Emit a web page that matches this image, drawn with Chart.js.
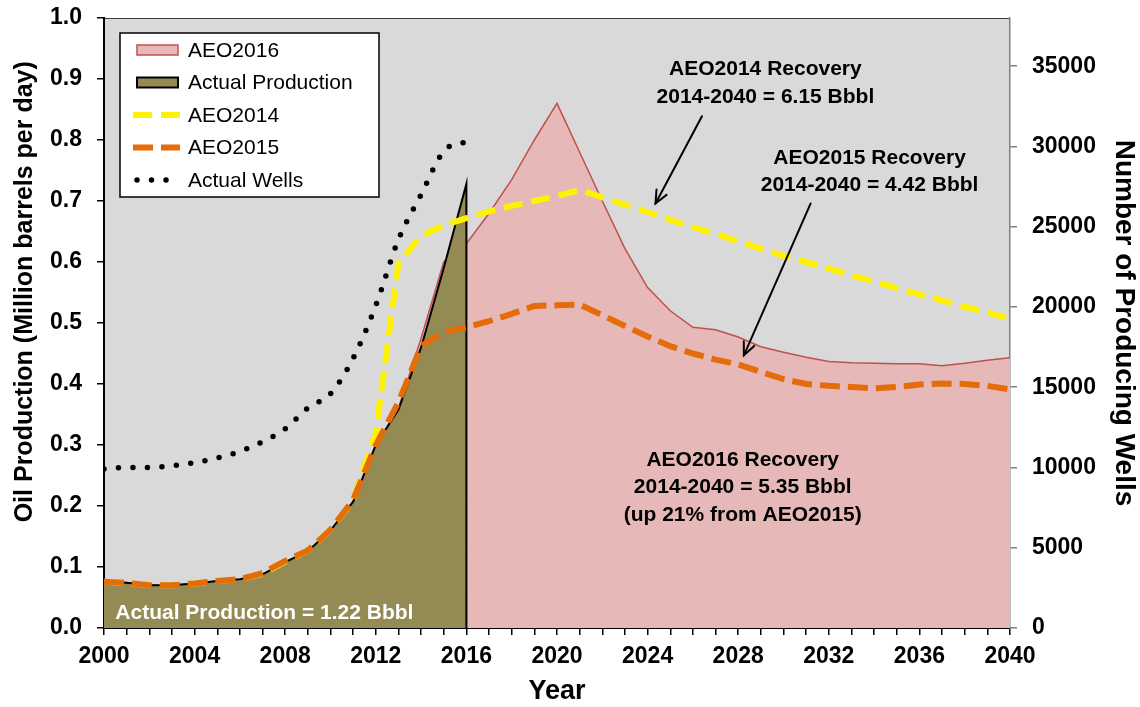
<!DOCTYPE html>
<html>
<head>
<meta charset="utf-8">
<title>Oil Production and Producing Wells</title>
<script src="https://cdn.jsdelivr.net/npm/chart.js@4.4.1/dist/chart.umd.min.js"></script>
<style>
body { margin: 0; background: #fff; }
#wrap { width: 1140px; height: 707px; }
</style>
</head>
<body>
<div id="wrap"><canvas id="oilChart" width="1140" height="707"></canvas></div>
<script>
// ===== DATA =====
const years = [2000, 2001, 2002, 2003, 2004, 2005, 2006, 2007, 2008, 2009,
  2010, 2011, 2012, 2013, 2014, 2015, 2016, 2017, 2018, 2019,
  2020, 2021, 2022, 2023, 2024, 2025, 2026, 2027, 2028, 2029,
  2030, 2031, 2032, 2033, 2034, 2035, 2036, 2037, 2038, 2039, 2040];

const actualYears = [2000, 2001, 2002, 2003, 2004, 2005, 2006, 2007, 2008,
  2009, 2010, 2011, 2012, 2013, 2014, 2015, 2016];

// million barrels per day
const actualProduction = [0.076, 0.074, 0.070, 0.070, 0.073, 0.077, 0.080, 0.088, 0.108,
  0.126, 0.160, 0.207, 0.300, 0.358, 0.460, 0.590, 0.728];

// number of producing wells
const actualWells = [9900, 10000, 10000, 10100, 10300, 10600, 11000, 11600, 12400,
  13700, 14600, 16800, 20100, 24200, 27000, 29700, 30300];

const aeo2016 = [0.076, 0.074, 0.070, 0.070, 0.073, 0.077, 0.080, 0.088, 0.108, 0.126,
  0.160, 0.207, 0.300, 0.360, 0.475, 0.600, 0.630, 0.680, 0.735, 0.800,
  0.860, 0.780, 0.700, 0.622, 0.558, 0.520, 0.493, 0.489, 0.477, 0.461,
  0.452, 0.444, 0.437, 0.435, 0.434, 0.433, 0.433, 0.430, 0.434, 0.439, 0.443];

const aeo2014 = [0.076, 0.074, 0.070, 0.070, 0.073, 0.077, 0.080, 0.089, 0.109, 0.127,
  0.161, 0.209, 0.320, 0.598, 0.643, 0.660, 0.672, 0.683, 0.692, 0.700,
  0.708, 0.718, 0.706, 0.694, 0.682, 0.669, 0.657, 0.646, 0.634, 0.622,
  0.610, 0.600, 0.589, 0.578, 0.568, 0.557, 0.547, 0.537, 0.527, 0.517, 0.507];

const aeo2015 = [0.076, 0.074, 0.070, 0.070, 0.073, 0.077, 0.080, 0.090, 0.110, 0.127,
  0.161, 0.210, 0.300, 0.370, 0.462, 0.485, 0.493, 0.503, 0.515, 0.528,
  0.529, 0.530, 0.513, 0.495, 0.478, 0.462, 0.450, 0.440, 0.432, 0.420,
  0.408, 0.400, 0.397, 0.395, 0.393, 0.395, 0.399, 0.401, 0.400, 0.397, 0.391];

const labelledYears = [2000, 2004, 2008, 2012, 2016, 2020, 2024, 2028, 2032, 2036, 2040];
const wellTicks = [0, 5000, 10000, 15000, 20000, 25000, 30000, 35000];

// notes: [year, value] anchors
const notes = [
  { at: [2029.2, 0.893], lines: ['AEO2014 Recovery', '2014-2040 = 6.15 Bbbl'], color: '#000', align: 'center' },
  { at: [2033.8, 0.748], lines: ['AEO2015 Recovery', '2014-2040 = 4.42 Bbbl'], color: '#000', align: 'center' },
  { at: [2028.2, 0.230], lines: ['AEO2016 Recovery', '2014-2040 = 5.35 Bbbl', '(up 21% from AEO2015)'], color: '#000', align: 'center' },
  { at: [2000.5, 0.025], lines: ['Actual Production = 1.22 Bbbl'], color: '#fff', align: 'left' }
];

const arrows = [
  { from: [2026.4, 0.839], to: [2024.35, 0.696] },
  { from: [2031.2, 0.696], to: [2028.25, 0.447] }
];

// ===== HELPERS =====
function toPoints(xs, ys){
  return xs.map((x, i) => ({ x: x, y: ys[i] }));
}

// actual production closes down to the axis at its last year
const actualPoints = toPoints(actualYears, actualProduction);
actualPoints.push({ x: actualYears[actualYears.length - 1], y: 0 });

// fixed side widths, no extra label overhang padding
function fixWidth(w){
  return (scale) => {
    scale.width = w;
    scale.paddingTop = 0;
    scale.paddingBottom = 0;
  };
}

const FONT = 'Liberation Sans, Arial, sans-serif';
Chart.defaults.font.family = FONT;
Chart.defaults.color = '#000';

// ===== PLUGINS =====
const plotBackground = {
  id: 'plotBackground',
  beforeDraw(chart){
    const { ctx, chartArea: a } = chart;
    ctx.save();
    ctx.fillStyle = '#d9d9d9';
    ctx.fillRect(a.left, a.top, a.right - a.left, a.bottom - a.top);
    ctx.strokeStyle = '#404040';
    ctx.lineWidth = 1;
    ctx.beginPath();
    ctx.moveTo(a.left, a.top + 0.5);
    ctx.lineTo(a.right, a.top + 0.5);
    ctx.stroke();
    ctx.restore();
  }
};

const notesPlugin = {
  id: 'notesPlugin',
  afterDatasetsDraw(chart){
    const { ctx, scales: { x, y } } = chart;
    ctx.save();

    // arrows
    ctx.strokeStyle = '#000';
    ctx.lineWidth = 2;
    ctx.lineCap = 'round';
    arrows.forEach(a => {
      const x1 = x.getPixelForValue(a.from[0]), y1 = y.getPixelForValue(a.from[1]);
      const x2 = x.getPixelForValue(a.to[0]), y2 = y.getPixelForValue(a.to[1]);
      const ang = Math.atan2(y2 - y1, x2 - x1);
      ctx.beginPath();
      ctx.moveTo(x1, y1);
      ctx.lineTo(x2, y2);
      ctx.stroke();
      ctx.beginPath();
      ctx.moveTo(x2 - 14 * Math.cos(ang - 0.42), y2 - 14 * Math.sin(ang - 0.42));
      ctx.lineTo(x2, y2);
      ctx.lineTo(x2 - 14 * Math.cos(ang + 0.42), y2 - 14 * Math.sin(ang + 0.42));
      ctx.stroke();
    });

    // text
    ctx.font = 'bold 21px ' + FONT;
    ctx.textBaseline = 'middle';
    notes.forEach(n => {
      const cx = x.getPixelForValue(n.at[0]);
      const cy = y.getPixelForValue(n.at[1]);
      ctx.fillStyle = n.color;
      ctx.textAlign = n.align;
      n.lines.forEach((line, i) => {
        ctx.fillText(line, cx, cy + (i - (n.lines.length - 1) / 2) * 27.5);
      });
    });
    ctx.restore();
  }
};

// legend box inside the plot, top-left
const boxLegend = {
  id: 'boxLegend',
  afterDraw(chart){
    const { ctx, chartArea: a } = chart;
    const left = a.left + 16, top = a.top + 15;
    const w = 259, h = 164;
    ctx.save();
    ctx.fillStyle = '#fff';
    ctx.fillRect(left, top, w, h);
    ctx.strokeStyle = '#000';
    ctx.lineWidth = 1.5;
    ctx.strokeRect(left, top, w, h);

    const order = [4, 3, 2, 1, 0]; // datasets are stored top-most first
    order.forEach((di, row) => {
      const ds = chart.data.datasets[di];
      const cy = top + 17 + row * 32.5;
      const sx = left + 17;
      ctx.save();
      if (ds.fill){
        ctx.fillStyle = ds.backgroundColor;
        ctx.fillRect(sx, cy - 5, 41, 10);
        ctx.strokeStyle = ds.borderColor;
        ctx.lineWidth = ds.borderWidth;
        ctx.strokeRect(sx, cy - 5, 41, 10);
      } else {
        ctx.strokeStyle = ds.borderColor;
        ctx.lineWidth = ds.borderWidth;
        ctx.lineCap = ds.borderCapStyle || 'butt';
        ctx.setLineDash(ds.borderDash || []);
        ctx.beginPath();
        if (ds.borderCapStyle === 'round'){
          ctx.moveTo(sx, cy);
          ctx.lineTo(sx + 32, cy);
        } else {
          ctx.moveTo(sx - 4, cy);
          ctx.lineTo(sx + 43, cy);
        }
        ctx.stroke();
      }
      ctx.restore();
      ctx.fillStyle = '#000';
      ctx.font = '21px ' + FONT;
      ctx.textAlign = 'left';
      ctx.textBaseline = 'middle';
      ctx.fillText(ds.label, left + 68, cy + 1);
    });
    ctx.restore();
  }
};

// ===== CHART =====
const ctx = document.getElementById('oilChart');

new Chart(ctx, {
  type: 'line',

  data: {
    datasets: [
      {
        label: 'Actual Wells',
        data: toPoints(actualYears, actualWells),
        yAxisID: 'y2',
        borderColor: '#000',
        borderWidth: 5.5,
        borderDash: [0, 14.5],
        borderCapStyle: 'round',
        cubicInterpolationMode: 'monotone',
        pointRadius: 0,
        fill: false
      },
      {
        label: 'AEO2015',
        data: toPoints(years, aeo2015),
        yAxisID: 'y',
        borderColor: '#e46c0a',
        borderWidth: 6,
        borderDash: [20, 8],
        pointRadius: 0,
        tension: 0,
        fill: false
      },
      {
        label: 'AEO2014',
        data: toPoints(years, aeo2014),
        yAxisID: 'y',
        borderColor: '#fff200',
        borderWidth: 6,
        borderDash: [19, 9],
        pointRadius: 0,
        tension: 0,
        fill: false
      },
      {
        label: 'Actual Production',
        data: actualPoints,
        yAxisID: 'y',
        borderColor: '#000',
        borderWidth: 2,
        backgroundColor: '#948a54',
        pointRadius: 0,
        tension: 0,
        fill: 'origin'
      },
      {
        label: 'AEO2016',
        data: toPoints(years, aeo2016),
        yAxisID: 'y',
        borderColor: '#c0504d',
        borderWidth: 1.5,
        backgroundColor: '#e6b9b8',
        pointRadius: 0,
        tension: 0,
        fill: 'origin'
      }
    ]
  },

  options: {
    responsive: false,
    animation: false,
    devicePixelRatio: 1,

    layout: {
      padding: { top: 18, right: 0, bottom: 0, left: 0 }
    },

    plugins: {
      legend: { display: false },
      tooltip: { enabled: false }
    },

    scales: {
      x: {
        type: 'linear',
        min: 2000,
        max: 2040,
        afterFit: (scale) => { scale.height = 79; },
        ticks: {
          stepSize: 1,
          autoSkip: false,
          maxRotation: 0,
          padding: 8,
          color: '#000',
          font: { size: 23, weight: 'bold' },
          callback: (v) => labelledYears.includes(v) ? String(v) : ''
        },
        grid: { drawOnChartArea: false, tickLength: 7, color: '#000', lineWidth: 1.5 },
        border: { color: '#000', width: 2 },
        title: {
          display: true,
          text: 'Year',
          color: '#000',
          font: { size: 27, weight: 'bold', lineHeight: 1 },
          padding: { top: 0, bottom: 2 }
        }
      },
      y: {
        position: 'left',
        min: 0,
        max: 1,
        afterFit: fixWidth(104),
        ticks: {
          stepSize: 0.1,
          padding: 15,
          color: '#000',
          font: { size: 23, weight: 'bold' },
          callback: (v) => v.toFixed(1)
        },
        grid: { drawOnChartArea: false, tickLength: 7, color: '#000', lineWidth: 1.5 },
        border: { color: '#000', width: 2 },
        title: {
          display: true,
          text: '         Oil Production (Million barrels per day)',
          color: '#000',
          font: { size: 25, weight: 'bold', lineHeight: 1 },
          padding: { top: 13, bottom: 0 }
        }
      },
      y2: {
        position: 'right',
        min: 0,
        max: 38000,
        afterFit: fixWidth(130),
        afterBuildTicks: (scale) => {
          scale.ticks = wellTicks.map(v => ({ value: v }));
        },
        ticks: {
          padding: 15,
          color: '#000',
          font: { size: 23, weight: 'bold' },
          callback: (v) => String(v)
        },
        grid: { drawOnChartArea: false, tickLength: 7, color: '#808080', lineWidth: 1.5 },
        border: { color: '#808080', width: 1.5 },
        title: {
          display: true,
          text: 'Number of Producing Wells',
          color: '#000',
          font: { size: 28, weight: 'bold', lineHeight: 1 },
          padding: { top: 2, bottom: 0 }
        }
      }
    }
  },

  plugins: [plotBackground, notesPlugin, boxLegend]
});
</script>
</body>
</html>
